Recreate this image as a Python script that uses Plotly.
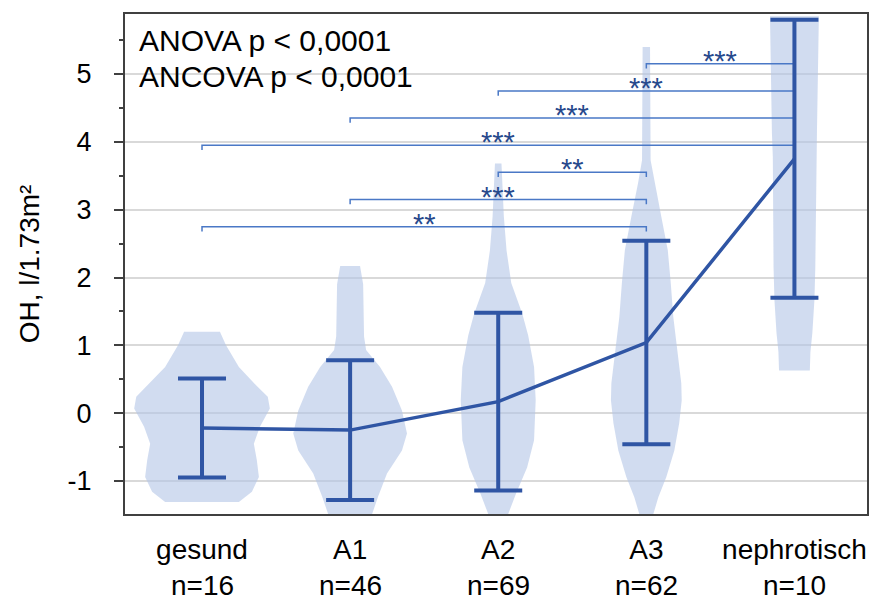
import plotly.graph_objects as go

# ---------------- data ----------------
categories = ["gesund", "A1", "A2", "A3", "nephrotisch"]
n_labels = ["n=16", "n=46", "n=69", "n=62", "n=10"]
means = [-0.22, -0.25, 0.17, 1.04, 3.75]
sds = [0.73, 1.03, 1.31, 1.50, 2.05]

# violin outlines (value levels, half-width in category units)
viol_gesund_y = [-1.31, -1.16, -0.94, -0.69, -0.45, -0.20, 0.07, 0.24, 0.40, 0.68, 1.00, 1.20]
viol_gesund_w = [0.249, 0.337, 0.384, 0.370, 0.350, 0.391, 0.458, 0.444, 0.370, 0.249, 0.162, 0.121]
viol_a1_y = [-1.49, -1.23, -0.89, -0.55, -0.30, 0.04, 0.39, 0.68, 0.93, 1.13, 1.90, 2.17]
viol_a1_w = [0.148, 0.189, 0.249, 0.350, 0.384, 0.350, 0.283, 0.202, 0.108, 0.094, 0.088, 0.067]
viol_a2_y = [-1.49, -1.18, -0.80, -0.40, 0.19, 0.68, 1.15, 1.47, 1.92, 2.40, 2.90, 3.68]
viol_a2_w = [0.067, 0.121, 0.195, 0.242, 0.253, 0.242, 0.202, 0.162, 0.088, 0.056, 0.038, 0.022]
viol_a3_y = [-1.49, -1.24, -0.94, -0.55, -0.15, 0.19, 0.44, 0.93, 1.42, 1.92, 2.40, 2.90, 3.39, 3.73, 5.40]
viol_a3_w = [0.047, 0.081, 0.135, 0.189, 0.222, 0.239, 0.236, 0.209, 0.182, 0.165, 0.145, 0.101, 0.056, 0.029, 0.025]
viol_neph_y = [0.63, 0.90, 1.18, 1.67, 2.15, 3.78, 4.13, 5.85]
viol_neph_w = [0.104, 0.108, 0.121, 0.135, 0.141, 0.146, 0.152, 0.165]

# significance brackets
bracket_left = [3, 2, 1, 0, 2, 1, 0]
bracket_right = [4, 4, 4, 4, 3, 3, 3]
bracket_y = [5.15, 4.75, 4.35, 3.95, 3.55, 3.15, 2.75]
bracket_label = ["***", "***", "***", "***", "**", "***", "**"]

y_tickvals = [-1, 0, 1, 2, 3, 4, 5]
y_ticktext = ["-1", "0", "1", "2", "3", "4", "5"]
stats_lines = ["ANOVA p < 0,0001", "ANCOVA p < 0,0001"]

# ---------------- style ----------------
FONT = "Liberation Sans, Arial, sans-serif"
VIOLIN_FILL = "rgba(178,196,230,0.6)"
MAIN_BLUE = "#2f55a4"
BRACKET_BLUE = "#4a78c6"
STAR_BLUE = "#27498c"
AXIS_COL = "#404040"

fig = go.Figure()

violins = [
    (viol_gesund_y, viol_gesund_w),
    (viol_a1_y, viol_a1_w),
    (viol_a2_y, viol_a2_w),
    (viol_a3_y, viol_a3_w),
    (viol_neph_y, viol_neph_w),
]
for i, (vy, vw) in enumerate(violins):
    xs = [i + w for w in vw] + [i - w for w in reversed(vw)]
    ys = list(vy) + list(reversed(vy))
    fig.add_trace(go.Scatter(x=xs, y=ys, mode="lines", fill="toself",
                             fillcolor=VIOLIN_FILL, line=dict(width=0),
                             hoverinfo="skip", showlegend=False))

tick = 0.07
for l, r, yb in zip(bracket_left, bracket_right, bracket_y):
    fig.add_trace(go.Scatter(x=[l, l, r, r], y=[yb - tick, yb, yb, yb - tick],
                             mode="lines", line=dict(color=BRACKET_BLUE, width=1.5),
                             hoverinfo="skip", showlegend=False))

fig.add_trace(go.Scatter(
    x=list(range(len(categories))), y=means, mode="lines",
    line=dict(color=MAIN_BLUE, width=3.5),
    error_y=dict(type="data", array=sds, visible=True, thickness=4, width=24, color=MAIN_BLUE),
    showlegend=False))

annotations = []
for l, r, yb, lab in zip(bracket_left, bracket_right, bracket_y, bracket_label):
    annotations.append(dict(x=(l + r) / 2, y=yb, xref="x", yref="y", text=lab,
                            showarrow=False, yanchor="middle", xanchor="center", yshift=3,
                            font=dict(family=FONT, size=29, color=STAR_BLUE)))
for i, t in enumerate(n_labels):
    annotations.append(dict(x=i, y=-0.142, xref="x", yref="paper", text=t,
                            showarrow=False, yanchor="middle", xanchor="center",
                            font=dict(family=FONT, size=28, color="#000000")))
for k, t in enumerate(stats_lines):
    annotations.append(dict(x=0.016, y=[0.948, 0.876][k], xref="paper", yref="paper", text=t,
                            showarrow=False, yanchor="middle", xanchor="left",
                            font=dict(family=FONT, size=30, color="#000000")))

fig.update_layout(
    width=880, height=605,
    margin=dict(l=125, r=11, t=14, b=91),
    paper_bgcolor="white", plot_bgcolor="white",
    showlegend=False,
    font=dict(family=FONT, color="#000000"),
    annotations=annotations,
    xaxis=dict(range=[-0.52, 4.49], tickvals=list(range(len(categories))), ticktext=categories,
               showgrid=False, zeroline=False, showline=True, linecolor=AXIS_COL, linewidth=2,
               mirror=True, ticks="", tickfont=dict(family=FONT, size=28, color="#000000"),
               ticklabelstandoff=9),
    yaxis=dict(range=[-1.487, 5.885], tickvals=y_tickvals, ticktext=y_ticktext,
               showgrid=True, gridcolor="#d9d9d9", gridwidth=1.5, zeroline=False,
               showline=True, linecolor=AXIS_COL, linewidth=2, mirror=True,
               ticks="outside", ticklen=9, tickwidth=1.5, tickcolor=AXIS_COL,
               minor=dict(ticks="outside", ticklen=4, tickwidth=1.5, tickcolor=AXIS_COL,
                          dtick=0.5, tick0=0, showgrid=False),
               tickfont=dict(family=FONT, size=27, color="#000000"),
               ticklabelstandoff=17,
               title=dict(text="OH, l/1.73m²", font=dict(family=FONT, size=28, color="#000000"),
                          standoff=20)),
)

fig.write_html("out.html")
